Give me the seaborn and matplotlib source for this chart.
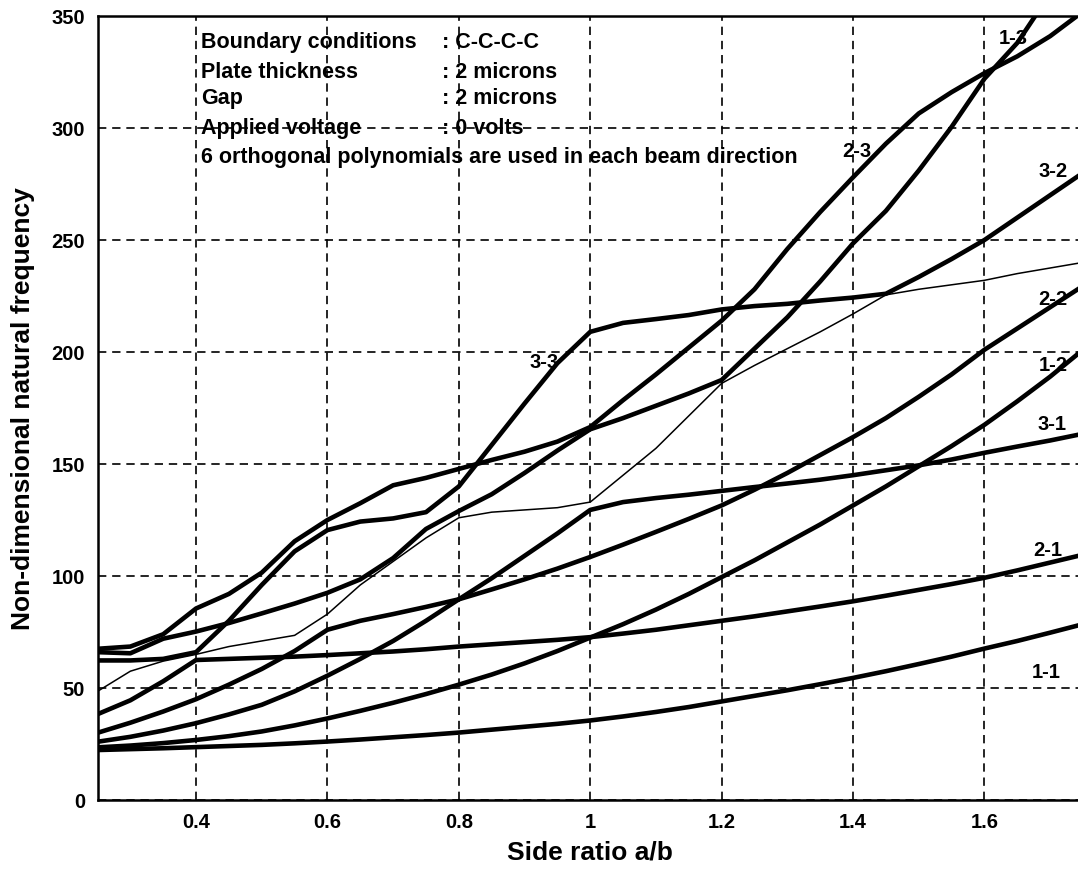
import numpy as np
import pandas as pd
import matplotlib
matplotlib.use("Agg")
import matplotlib.pyplot as plt
import seaborn as sns

# ---------------- data ----------------
side_ratio = [0.25, 0.30, 0.35, 0.40, 0.45, 0.50, 0.55, 0.60, 0.65, 0.70, 0.75,
              0.80, 0.85, 0.90, 0.95, 1.00, 1.05, 1.10, 1.15, 1.20, 1.25, 1.30,
              1.35, 1.40, 1.45, 1.50, 1.55, 1.60, 1.65, 1.70, 1.75]

mode_1_1 = [22.3, 22.7, 23.1, 23.6, 24.1, 24.6, 25.3, 26.1, 27.0, 28.0, 29.0,
            30.1, 31.4, 32.7, 34.0, 35.5, 37.3, 39.3, 41.5, 44.0, 46.5, 49.0,
            51.7, 54.5, 57.5, 60.7, 64.0, 67.6, 71.0, 74.7, 78.5]
mode_1_2 = [23.5, 24.3, 25.4, 26.8, 28.5, 30.6, 33.3, 36.4, 39.8, 43.4, 47.3,
            51.5, 56.0, 61.0, 66.5, 72.5, 78.5, 85.0, 92.0, 99.5, 107.0, 115.0,
            123.0, 131.5, 140.0, 149.0, 158.0, 167.5, 178.0, 189.0, 201.0]
mode_3_1 = [26.0, 28.2, 31.0, 34.3, 38.2, 42.5, 48.5, 55.5, 63.0, 71.0, 80.0,
            89.6, 99.0, 109.0, 119.0, 129.5, 133.0, 134.8, 136.3, 138.0, 139.7, 141.3,
            143.0, 145.0, 147.2, 149.4, 152.0, 155.0, 157.8, 160.5, 163.5]
mode_2_2 = [30.0, 34.5, 39.5, 45.0, 51.5, 58.5, 66.5, 76.0, 80.0, 83.0, 86.2,
            89.6, 94.0, 98.5, 103.3, 108.5, 114.0, 119.7, 125.5, 131.5, 138.5, 146.0,
            154.0, 162.0, 170.5, 180.0, 190.0, 201.0, 210.5, 220.0, 229.5]
mode_2_1 = [38.3, 44.5, 53.0, 62.5, 63.0, 63.5, 64.0, 64.7, 65.5, 66.3, 67.3,
            68.5, 69.5, 70.5, 71.5, 72.7, 74.3, 76.0, 78.0, 80.0, 82.0, 84.2,
            86.4, 88.7, 91.2, 93.8, 96.4, 99.2, 102.5, 106.0, 109.5]
mode_3_2 = [62.3, 62.3, 63.0, 66.0, 80.0, 96.0, 111.0, 120.5, 124.3, 125.7, 128.5,
            140.0, 158.5, 177.0, 195.0, 209.0, 213.0, 214.7, 216.5, 219.0, 220.5, 221.5,
            223.0, 224.3, 226.0, 233.5, 241.5, 250.0, 260.0, 270.0, 280.0]
mode_1_3 = [66.0, 65.5, 72.0, 75.2, 79.0, 83.3, 87.7, 92.5, 98.5, 108.0, 121.0,
            129.0, 136.5, 146.0, 156.0, 165.5, 170.5, 176.0, 181.5, 187.5, 201.5, 215.5,
            231.5, 248.5, 263.0, 281.0, 300.5, 322.0, 338.0, 360.0, 380.0]
mode_2_3 = [67.5, 68.5, 74.0, 85.5, 92.0, 101.5, 115.5, 125.0, 132.5, 140.5, 143.8,
            147.8, 151.8, 155.5, 160.0, 166.5, 178.5, 190.0, 202.0, 214.0, 228.0, 246.0,
            262.5, 278.0, 293.0, 306.5, 316.0, 324.5, 332.0, 341.0, 352.0]
sixth_freq = [48.5, 57.5, 62.0, 65.0, 68.5, 71.0, 73.5, 83.0, 96.0, 106.5, 117.0,
              126.0, 128.5, 129.5, 130.5, 133.0, 145.0, 157.0, 171.5, 186.0, 194.0, 201.5,
              209.0, 217.0, 225.5, 228.0, 230.0, 232.0, 235.0, 237.5, 240.0]

thick_curves = {"1-1": mode_1_1, "1-2": mode_1_2, "3-1": mode_3_1, "2-2": mode_2_2,
                "2-1": mode_2_1, "3-2": mode_3_2, "1-3": mode_1_3, "2-3": mode_2_3}

curve_labels = ["1-3", "2-3", "3-2", "2-2", "1-2", "3-1", "2-1", "1-1", "3-3"]
label_x = [1.644, 1.406, 1.704, 1.704, 1.704, 1.703, 1.697, 1.694, 0.929]
label_y = [340.6, 290.0, 281.0, 224.0, 194.6, 167.9, 112.0, 57.5, 195.6]

info_keys = ["Boundary conditions", "Plate thickness", "Gap", "Applied voltage"]
info_vals = [": C-C-C-C", ": 2 microns", ": 2 microns", ": 0 volts"]
info_note = "6 orthogonal polynomials are used in each beam direction"

x_ticks = [0.4, 0.6, 0.8, 1.0, 1.2, 1.4, 1.6]
x_tick_labels = ["0.4", "0.6", "0.8", "1", "1.2", "1.4", "1.6"]
y_ticks = [0, 50, 100, 150, 200, 250, 300, 350]

# ---------------- build long-form tables ----------------
thick_df = pd.concat(
    [pd.DataFrame({"ratio": side_ratio, "freq": v, "mode": k}) for k, v in thick_curves.items()],
    ignore_index=True)
thin_df = pd.DataFrame({"ratio": side_ratio, "freq": sixth_freq, "mode": "6th"})

# ---------------- figure ----------------
sns.set_theme(style="white")
plt.rcParams["font.family"] = ["Liberation Sans", "DejaVu Sans"]
plt.rcParams["font.weight"] = "bold"
plt.rcParams["text.color"] = "black"
plt.rcParams["axes.labelcolor"] = "black"
plt.rcParams["xtick.color"] = "black"
plt.rcParams["ytick.color"] = "black"

W, H = 1078, 878
fig = plt.figure(figsize=(W / 100, H / 100), dpi=100)
ax_left, ax_right, ax_top, ax_bottom = 97.5, 1083.0, 17.0, 801.0
ax = fig.add_axes([ax_left / W, (H - ax_bottom) / H,
                   (ax_right - ax_left) / W, (ax_bottom - ax_top) / H])

sns.lineplot(data=thick_df, x="ratio", y="freq", units="mode", estimator=None,
             color="black", linewidth=3.3, sort=False, ax=ax, legend=False)
sns.lineplot(data=thin_df, x="ratio", y="freq", units="mode", estimator=None,
             color="black", linewidth=1.1, sort=False, ax=ax, legend=False)

ax.set_xlim(0.25, 1.75)
ax.set_ylim(0, 350)
ax.set_xticks(x_ticks)
ax.set_xticklabels(x_tick_labels)
ax.set_yticks(y_ticks)
ax.tick_params(axis="both", direction="in", length=5, width=1.2, colors="black",
               labelcolor="black", labelsize=14.5, pad=9)
for lab in ax.get_xticklabels() + ax.get_yticklabels():
    lab.set_fontweight("bold")
    lab.set_color("black")

ax.grid(True, color="black", linestyle=(0, (5, 3.5)), linewidth=1.2)
for side in ["left", "bottom", "top", "right"]:
    ax.spines[side].set_color("black")
    ax.spines[side].set_linewidth(1.8)

ax.set_xlabel("Side ratio a/b", fontsize=19, fontweight="bold", labelpad=6, color="black")
ax.set_ylabel("Non-dimensional natural frequency", fontsize=19, fontweight="bold",
              labelpad=12, color="black")

for t, xx, yy in zip(curve_labels, label_x, label_y):
    ax.text(xx, yy, t, ha="center", va="center", fontsize=14.5, fontweight="bold",
            color="black")

row_y = [338.4, 325.4, 313.4, 300.4]
for k, v, yy in zip(info_keys, info_vals, row_y):
    ax.text(0.407, yy, k, ha="left", va="center", fontsize=15.5, fontweight="bold", color="black")
    ax.text(0.775, yy, v, ha="left", va="center", fontsize=15.5, fontweight="bold", color="black")
ax.text(0.407, 287.5, info_note, ha="left", va="center", fontsize=15.5, fontweight="bold",
        color="black")

fig.savefig("out.png", dpi=100, facecolor="white")
